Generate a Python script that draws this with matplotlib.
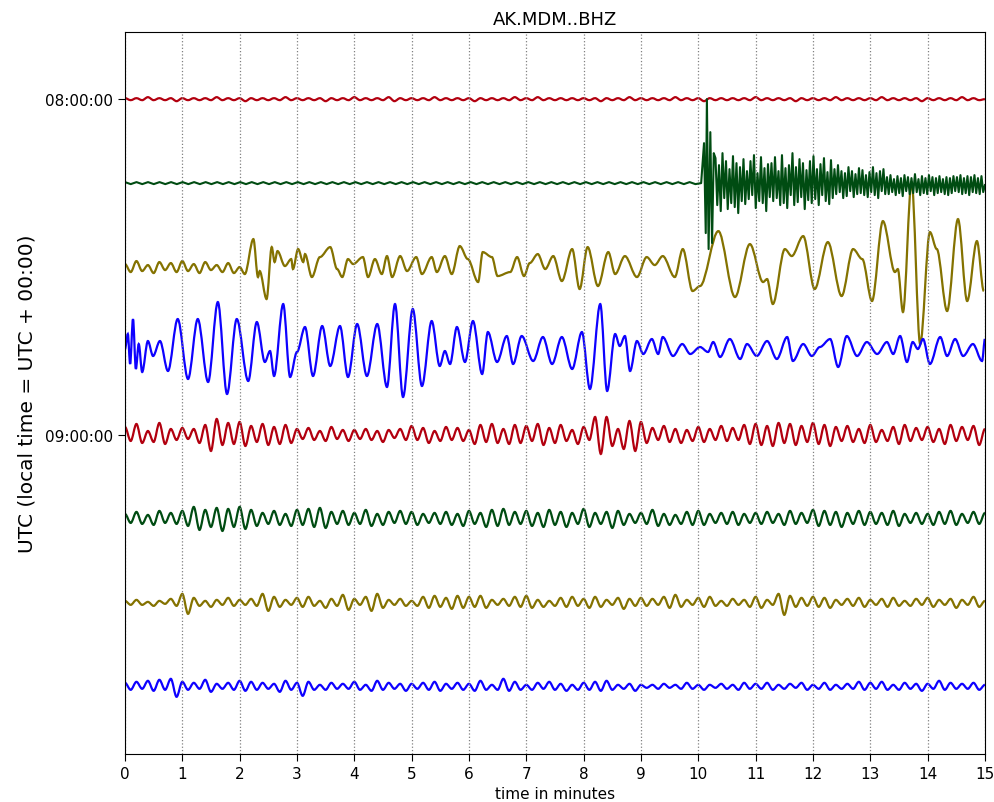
import numpy as np
import matplotlib
matplotlib.use("Agg")
import matplotlib.pyplot as plt
from matplotlib.path import Path
from matplotlib.patches import PathPatch

title = "AK.MDM..BHZ"
colors = ["#B2000F", "#004C12", "#847200", "#0E01FF"]
hour_ticks = [0, 4]
hour_labels = ["08:00:00", "09:00:00"]
minute_ticks = list(range(16))

# amplitudes (peaks and troughs), in units where one line spacing = 84

# 08:00 red - almost flat, small ripple, 10 samples per minute
red_0800 = [1, -1, 1, -1, 2, -1, 1, -1, 1, -2,
            1, -1, 1, -1, 1, -1, 2, -1, 1, -1,
            1, -2, 1, -1, 1, -1, 1, -1, 2, -1,
            1, -1, 1, -1, 1, -2, 1, -1, 1, -1,
            2, -1, 1, -1, 1, -1, 2, -2, 1, -1,
            1, -1, 1, -1, 2, -1, 1, -1, 1, -1,
            1, -2, 1, -1, 1, -1, 1, -1, 2, -1,
            1, -1, 2, -1, 1, -1, 1, -1, 1, -1,
            1, -1, 1, -2, 1, -1, 1, -1, 2, -1,
            1, -1, 1, -1, 1, -1, 2, -1, 1, -1,
            1, -2, 1, -1, 1, -1, 1, -1, 1, -1,
            2, -1, 1, -1, 1, -1, 1, -2, 1, -1,
            1, -1, 1, -1, 2, -1, 1, -1, 1, -1,
            1, -1, 2, -1, 1, -1, 1, -1, 1, -2,
            1, -1, 1, -1, 1, -1, 2, -1, 1, -1, 0]

# 08:15 green - quiet until the quake at ~10.1 min
green_0815_quiet = [1, -1, 1, -1, 1, -1, 1, -1, 1, -1] * 10 + [0]
green_0815_quake_t = [10.05, 10.1, 10.13, 10.15, 10.18, 10.21, 10.24, 10.27]
green_0815_quake_v = [0, 40, -50, 84, -66, 51, -60, 30]
green_0815_coda = [25, -22, 18, -28, 30, -15, 22, -26, 14, -20, 27, -24, 20, -30, 16, -18, 24, -21,
                   12, -16, 22, -12, 28, -25, 10, -18, 26, -20, 15, -28, 19, -14,
                   20, -18, 26, -15, 12, -22, 28, -20, 15, -25, 18, -12, 30, -22, 16, -19, 24, -14,
                   20, -26, 13, -17, 22, -20, 27, -16, 14, -22, 19, -12, 25, -18, 11, -21, 23, -15,
                   14, -11, 18, -9, 12, -15, 10, -13, 16, -8, 12, -14, 9, -11, 15, -10, 13, -12,
                   8, -14, 11, -9, 16, -12, 10, -15, 12, -8, 14, -11,
                   6, -11, 8, -9, 4, -12, 7, -10, 5, -13, 8, -8, 6, -11, 5, -10, 9, -9, 4, -12,
                   7, -10, 5, -11, 8, -8, 6, -12, 5, -10, 7, -9, 4, -11, 6, -12, 5, -10, 7, -8,
                   6, -9, 8, -11, 5, -10, 7, -12, 6, -9, 8, -10, 5, -11, 7, -9, -2]

# 08:30 olive
olive_0830_quiet = [3, -5, 6, -4, 2, -6, 5, -3, 4, -5, 6, -4, 3, -6, 5, -3, 2, -5, 4, -6, 0]
olive_0830_t = [2.0, 2.09, 2.24, 2.32, 2.35, 2.47, 2.56, 2.61, 2.66, 2.79, 2.9, 2.93, 3.02, 3.11,
                3.14, 3.26, 3.4, 3.58, 3.7, 3.79, 3.89, 3.98, 4.15, 4.24, 4.36, 4.48, 4.57, 4.66,
                4.8, 4.92, 5.08, 5.18, 5.35, 5.44, 5.58, 5.7, 5.84, 5.98, 6.16, 6.24, 6.4, 6.5,
                6.72, 6.84, 6.96, 7.06, 7.2, 7.33, 7.47, 7.62, 7.8, 7.93, 8.07, 8.25, 8.43, 8.55,
                8.72, 8.93, 9.1, 9.24, 9.38, 9.59, 9.73, 9.9, 10.03, 10.35, 10.64, 10.9, 11.13,
                11.2, 11.3, 11.51, 11.63, 11.83, 12.03, 12.26, 12.5, 12.7, 12.86, 13.03, 13.22,
                13.43, 13.48, 13.57, 13.72, 13.87, 14.04, 14.16, 14.34, 14.53, 14.69, 14.86, 14.98]
olive_0830_v = [0, -7, 28, -10, -4, -32, 20, 5, 16, 1, 8, -2, 18, 5, 13, -10, 10, 20, -2, -10, 8,
                3, 10, -10, 8, -7, 11, -10, 11, -4, 10, -7, 10, -5, 11, -7, 21, 8, -15, 15, 10, -9,
                -5, 10, -9, 4, 13, -2, 11, -14, 18, -22, 20, -19, 15, -7, 11, -10, 10, 2, 11, -10,
                18, -24, -19, 36, -30, 23, -15, -12, -37, 18, 11, 31, -22, 25, -29, 18, 8, -34,
                46, -5, -2, -45, 85, -77, 35, 18, -44, 48, -34, 26, -24]

# 08:45 blue
blue_0845_t = [0.0, 0.05, 0.09, 0.14, 0.19, 0.24, 0.3, 0.4, 0.49, 0.61, 0.75, 0.92, 1.1, 1.27,
               1.45, 1.62, 1.78, 1.95, 2.15, 2.3, 2.44, 2.53, 2.6, 2.76, 2.88, 3.0, 3.14, 3.28,
               3.44, 3.58, 3.75, 3.89, 4.05, 4.22, 4.4, 4.57, 4.71, 4.85, 5.02, 5.18, 5.35, 5.49,
               5.58, 5.67, 5.79, 5.93, 6.07, 6.23, 6.33, 6.49, 6.66, 6.77, 6.92, 7.12, 7.29, 7.45,
               7.62, 7.8, 7.97, 8.11, 8.29, 8.41, 8.55, 8.63, 8.72, 8.81, 8.93, 9.04, 9.19, 9.3,
               9.38, 9.56, 9.72, 9.86, 10.03, 10.17, 10.26, 10.38, 10.55, 10.73, 10.85, 11.02,
               11.2, 11.37, 11.55, 11.65, 11.83, 11.98, 12.12, 12.3, 12.44, 12.59, 12.77, 12.94,
               13.12, 13.29, 13.4, 13.52, 13.64, 13.74, 13.83, 13.92, 14.04, 14.22, 14.34, 14.48,
               14.62, 14.79, 14.95, 15.0]
blue_0845_v = [2, 17, -13, 32, -18, 7, -21, 10, -5, 10, -20, 32, -28, 32, -31, 49, -43, 32, -30,
               29, -11, 0, -25, 47, -26, -1, 24, -25, 25, -15, 25, -26, 27, -25, 27, -36, 47, -46,
               42, -35, 30, -15, 0, -13, 24, -11, 30, -23, 19, -11, 15, -13, 15, -10, 14, -13, 14,
               -18, 19, -38, 47, -40, 17, 5, 15, -20, 10, -3, 12, -3, 14, -5, 7, -3, 4, -1, 9, -6,
               12, -8, 7, -5, 10, -8, 14, -10, 7, -5, 4, 12, -16, 15, -5, 9, -3, 9, -3, 15, -11, 9,
               2, 12, -13, 14, -5, 12, -5, 7, -10, 12]

# 09:00 red
red_0900 = [8, -6, 11, -8, 4, -7, 12, -9, 6, -5,
            7, -4, 6, -8, 10, -16, 16, -10, 12, -9,
            13, -11, 9, -7, 11, -10, 8, -9, 10, -8,
            6, -4, 7, -5, 4, -6, 8, -4, 5, -6,
            5, -4, 6, -5, 4, -7, 5, -3, 6, -5,
            9, -5, 7, -8, 4, -6, 8, -5, 7, -6,
            5, -9, 10, -7, 11, -8, 6, -9, 10, -8,
            9, -6, 11, -10, 7, -8, 10, -6, 5, -9,
            8, -5, 18, -19, 18, -11, 6, -14, 14, -16,
            13, -8, 7, -5, 9, -7, 6, -8, 5, -6,
            8, -7, 6, -5, 9, -6, 7, -5, 10, -9,
            11, -10, 9, -11, 12, -8, 11, -10, 9, -7,
            12, -9, 10, -11, 8, -6, 9, -7, 6, -8,
            10, -7, 5, -6, 8, -9, 10, -6, 7, -5,
            8, -7, 6, -9, 10, -6, 8, -5, 9, -10, 6]

# 09:15 green
green_0915 = [5, -4, 7, -5, 4, -6, 8, -4, 6, -5,
              8, -7, 12, -11, 9, -8, 11, -12, 10, -8,
              12, -10, 9, -7, 6, -5, 8, -6, 5, -7,
              9, -6, 10, -8, 11, -9, 7, -5, 8, -6,
              6, -5, 9, -7, 5, -6, 7, -4, 8, -5,
              7, -6, 5, -4, 6, -5, 7, -6, 5, -7,
              8, -5, 6, -8, 9, -7, 10, -6, 7, -5,
              8, -7, 6, -8, 9, -6, 7, -8, 6, -5,
              10, -8, 6, -5, 7, -9, 8, -6, 5, -4,
              6, -5, 9, -7, 5, -6, 4, -5, 7, -6,
              8, -6, 5, -4, 6, -5, 7, -6, 5, -4,
              6, -5, 7, -4, 5, -6, 8, -5, 6, -4,
              9, -7, 8, -6, 7, -8, 6, -5, 8, -6,
              7, -5, 6, -6, 8, -7, 5, -4, 6, -5,
              5, -6, 7, -5, 8, -6, 5, -4, 7, -5, 6]

# 09:30 olive
olive_0930 = [2, -2, 3, -2, 1, -3, 2, -1, 4, -3,
              9, -11, 5, -3, 2, -4, 3, -2, 5, -3,
              3, -2, 4, -3, 9, -8, 6, -4, 3, -2,
              5, -4, 6, -3, 2, -5, 4, -3, 8, -7,
              4, -2, 6, -8, 9, -5, 3, -2, 4, -3,
              2, -3, 6, -5, 7, -4, 5, -6, 7, -5,
              6, -4, 7, -5, 3, -2, 4, -3, 6, -4,
              7, -5, 3, -4, 2, -3, 5, -4, 6, -3,
              4, -5, 6, -4, 3, -2, 5, -6, 4, -3,
              5, -3, 4, -2, 6, -5, 8, -4, 3, -2,
              5, -4, 6, -3, 2, -3, 4, -2, 3, -4,
              6, -5, 3, -2, 9, -12, 7, -4, 5, -3,
              6, -4, 5, -5, 3, -2, 4, -3, 5, -4,
              3, -2, 4, -4, 5, -3, 2, -3, 4, -2,
              5, -4, 3, -2, 4, -5, 3, -2, 6, -4, 2]

# 09:45 blue
blue_0945 = [4, -3, 5, -2, 6, -4, 7, -3, 8, -10,
             5, -3, 4, -2, 7, -5, 3, -2, 4, -3,
             6, -4, 5, -3, 4, -2, 3, -5, 6, -3,
             4, -9, 5, -3, 2, -3, 4, -2, 3, -2,
             5, -3, 2, -4, 6, -3, 4, -2, 3, -4,
             3, -2, 4, -3, 5, -4, 3, -2, 4, -3,
             3, -4, 6, -3, 2, -3, 8, -4, 5, -3,
             2, -3, 4, -2, 5, -3, 3, -4, 2, -3,
             4, -3, 5, -4, 6, -3, 2, -2, 3, -4,
             2, -1, 2, -2, 3, -1, 2, -2, 4, -2,
             2, -3, 2, -1, 3, -2, 2, -3, 4, -2,
             3, -2, 4, -3, 2, -2, 3, -1, 4, -3,
             2, -2, 4, -3, 2, -2, 3, -2, 5, -3,
             4, -2, 5, -3, 2, -3, 4, -2, 3, -4,
             3, -2, 6, -3, 4, -2, 3, -2, 4, -3, 2]


def even(vals, t0=0.0, t1=15.0):
    return np.linspace(t0, t1, len(vals)), np.asarray(vals, dtype=float)


def wave_path(t, y):
    # the listed points are the turning points of the trace, so join them
    # with bezier segments that are flat at each end
    verts = [(t[0], y[0])]
    codes = [Path.MOVETO]
    for k in range(1, len(t)):
        dt = (t[k] - t[k - 1]) / 3.0
        verts += [(t[k - 1] + dt, y[k - 1]), (t[k] - dt, y[k]), (t[k], y[k])]
        codes += [Path.CURVE4] * 3
    return Path(verts, codes)


fig = plt.figure(figsize=(9.95, 8.03), dpi=100)
ax = fig.add_axes([0.1256, 0.0598, 0.8643, 0.8991])

smooth = [(0, even(red_0800))]
t_q, v_q = even(olive_0830_quiet, 0.0, 2.0)
smooth.append((2, (np.concatenate([t_q, olive_0830_t[1:]]),
                   np.concatenate([v_q, olive_0830_v[1:]]))))
smooth.append((3, (np.asarray(blue_0845_t), np.asarray(blue_0845_v, dtype=float))))
for i, vals in zip([4, 5, 6, 7], [red_0900, green_0915, olive_0930, blue_0945]):
    smooth.append((i, even(vals)))

for i, (t, v) in smooth:
    ax.add_patch(PathPatch(wave_path(t, i - v / 84.0), fill=False,
                           edgecolor=colors[i % 4], lw=1.6))

# the quake trace is spiky, plain line segments
t_q, v_q = even(green_0815_quiet, 0.0, 10.05)
t_c, v_c = even(green_0815_coda, 10.3, 15.0)
t_g = np.concatenate([t_q, green_0815_quake_t[1:], t_c])
v_g = np.concatenate([v_q, green_0815_quake_v[1:], v_c])
ax.plot(t_g, 1 - v_g / 84.0, color=colors[1], lw=1.5)

ax.set_xlim(0, 15)
ax.set_ylim(7.8, -0.8)
ax.set_xticks(minute_ticks)
ax.set_yticks(hour_ticks)
ax.set_yticklabels(hour_labels)
ax.tick_params(labelsize=11, direction="out", length=5)
ax.xaxis.grid(True, ls=":", color="gray", lw=0.9)
ax.set_title(title, fontsize=13)
ax.set_xlabel("time in minutes", fontsize=11, labelpad=4)
ax.set_ylabel("UTC (local time = UTC + 00:00)", fontsize=14.5, labelpad=6)

fig.savefig("out.png", dpi=100)
